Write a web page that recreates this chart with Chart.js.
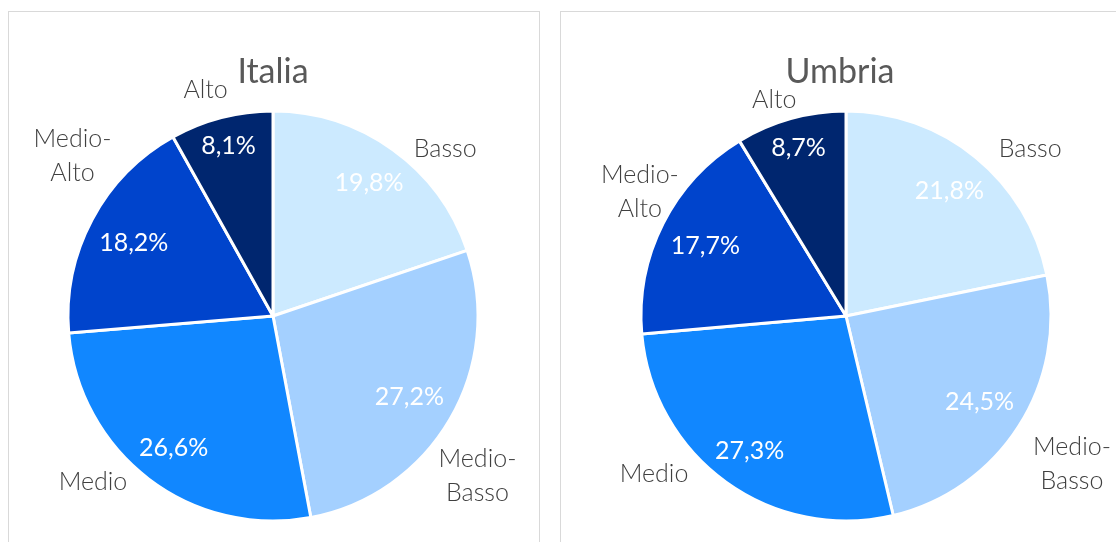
<!DOCTYPE html>
<html>
<head>
<meta charset="utf-8">
<script src="https://cdn.jsdelivr.net/npm/chart.js@4/dist/chart.umd.min.js"></script>
<style>
  html, body { margin: 0; padding: 0; background: #fff; overflow: hidden; }
  body { width: 1116px; height: 542px; position: relative; }
  .panel { position: absolute; top: 11px; height: 600px; border: 1px solid #d9d9d9; overflow: hidden; }
  #panelItalia { left: 8px; width: 530px; }
  #panelUmbria { left: 560px; width: 600px; }
  canvas { position: absolute; left: 0; top: 0; }
</style>
</head>
<body>
<div class="panel" id="panelItalia"><canvas id="chartItalia" width="530" height="530"></canvas></div>
<div class="panel" id="panelUmbria"><canvas id="chartUmbria" width="555" height="530"></canvas></div>

<script>
var categories = ["Basso", "Medio-Basso", "Medio", "Medio-Alto", "Alto"];
var italiaValues = [19.8, 27.2, 26.6, 18.2, 8.1];
var umbriaValues = [21.8, 24.5, 27.3, 17.7, 8.7];

var sliceColors = ["#cceaff", "#a4d0ff", "#1187ff", "#0044cc", "#00266f"];

function pctText(v) {
  return v.toFixed(1).replace(".", ",") + "%";
}

// titles, category labels outside, percentages inside
var pieLabels = {
  id: "pieLabels",
  afterDatasetsDraw: function (chart, args, opts) {
    var ctx = chart.ctx;
    var meta = chart.getDatasetMeta(0);
    var values = chart.data.datasets[0].data;
    var first = meta.data[0];
    var cx = first.x, cy = first.y;

    ctx.save();
    ctx.fillStyle = "#595959";
    ctx.font = "34px Lato";
    ctx.textAlign = "center";
    ctx.textBaseline = "alphabetic";
    ctx.fillText(opts.title, cx + opts.titleShift, 71);

    for (var i = 0; i < meta.data.length; i++) {
      var arc = meta.data[i];
      var r = arc.outerRadius;
      var mid = (arc.startAngle + arc.endAngle) / 2;

      // percentage inside
      ctx.font = "25px Lato";
      ctx.fillStyle = "#ffffff";
      ctx.textBaseline = "middle";
      var txt = pctText(values[i]);
      var hw = ctx.measureText(txt).width / 2;
      var d = r - 12 - (hw * Math.abs(Math.cos(mid)) + 10 * Math.abs(Math.sin(mid)));
      ctx.fillText(txt, cx + Math.cos(mid) * d, cy + Math.sin(mid) * d + 1);

      // category label outside
      var a = mid + opts.labelShift[i] * Math.PI / 180;
      var ld = r * opts.labelDist[i];
      var lx = cx + Math.cos(a) * ld;
      var ly = cy + Math.sin(a) * ld;
      var name = chart.data.labels[i];
      var lines = name.indexOf("-") > 0 ? [name.split("-")[0] + "-", name.split("-")[1]] : [name];
      ctx.font = "300 25px Lato";
      ctx.fillStyle = "#404040";
      for (var k = 0; k < lines.length; k++) {
        ctx.fillText(lines[k], lx, ly + (k - (lines.length - 1) / 2) * 34);
      }
    }
    ctx.restore();
  }
};

function makePie(id, values, title, pad, labelShift, labelDist, titleShift) {
  var el = document.getElementById(id);
  return new Chart(el, {
    type: "pie",
    data: {
      labels: categories,
      datasets: [{
        data: values,
        backgroundColor: sliceColors,
        borderColor: "#ffffff",
        borderWidth: 3,
        hoverOffset: 0
      }]
    },
    options: {
      responsive: false,
      animation: false,
      radius: 205,
      layout: { padding: pad },
      plugins: {
        legend: { display: false },
        tooltip: { enabled: false },
        title: { display: false },
        pieLabels: {
          title: title,
          titleShift: titleShift,
          labelShift: labelShift,
          labelDist: labelDist
        }
      }
    },
    plugins: [pieLabels]
  });
}

makePie("chartItalia", italiaValues, "Italia",
  { left: 59, right: 61, top: 99, bottom: 21 },
  [10.2, 7.6, 10.0, 10.5, -2.0],
  [1.17, 1.265, 1.195, 1.25, 1.15],
  0);

makePie("chartUmbria", umbriaValues, "Umbria",
  { left: 80, right: 65, top: 99, bottom: 21 },
  [8.6, 0.6, 14.7, 4.2, -2.7],
  [1.212, 1.317, 1.213, 1.173, 1.111],
  -6);
</script>
</body>
</html>
